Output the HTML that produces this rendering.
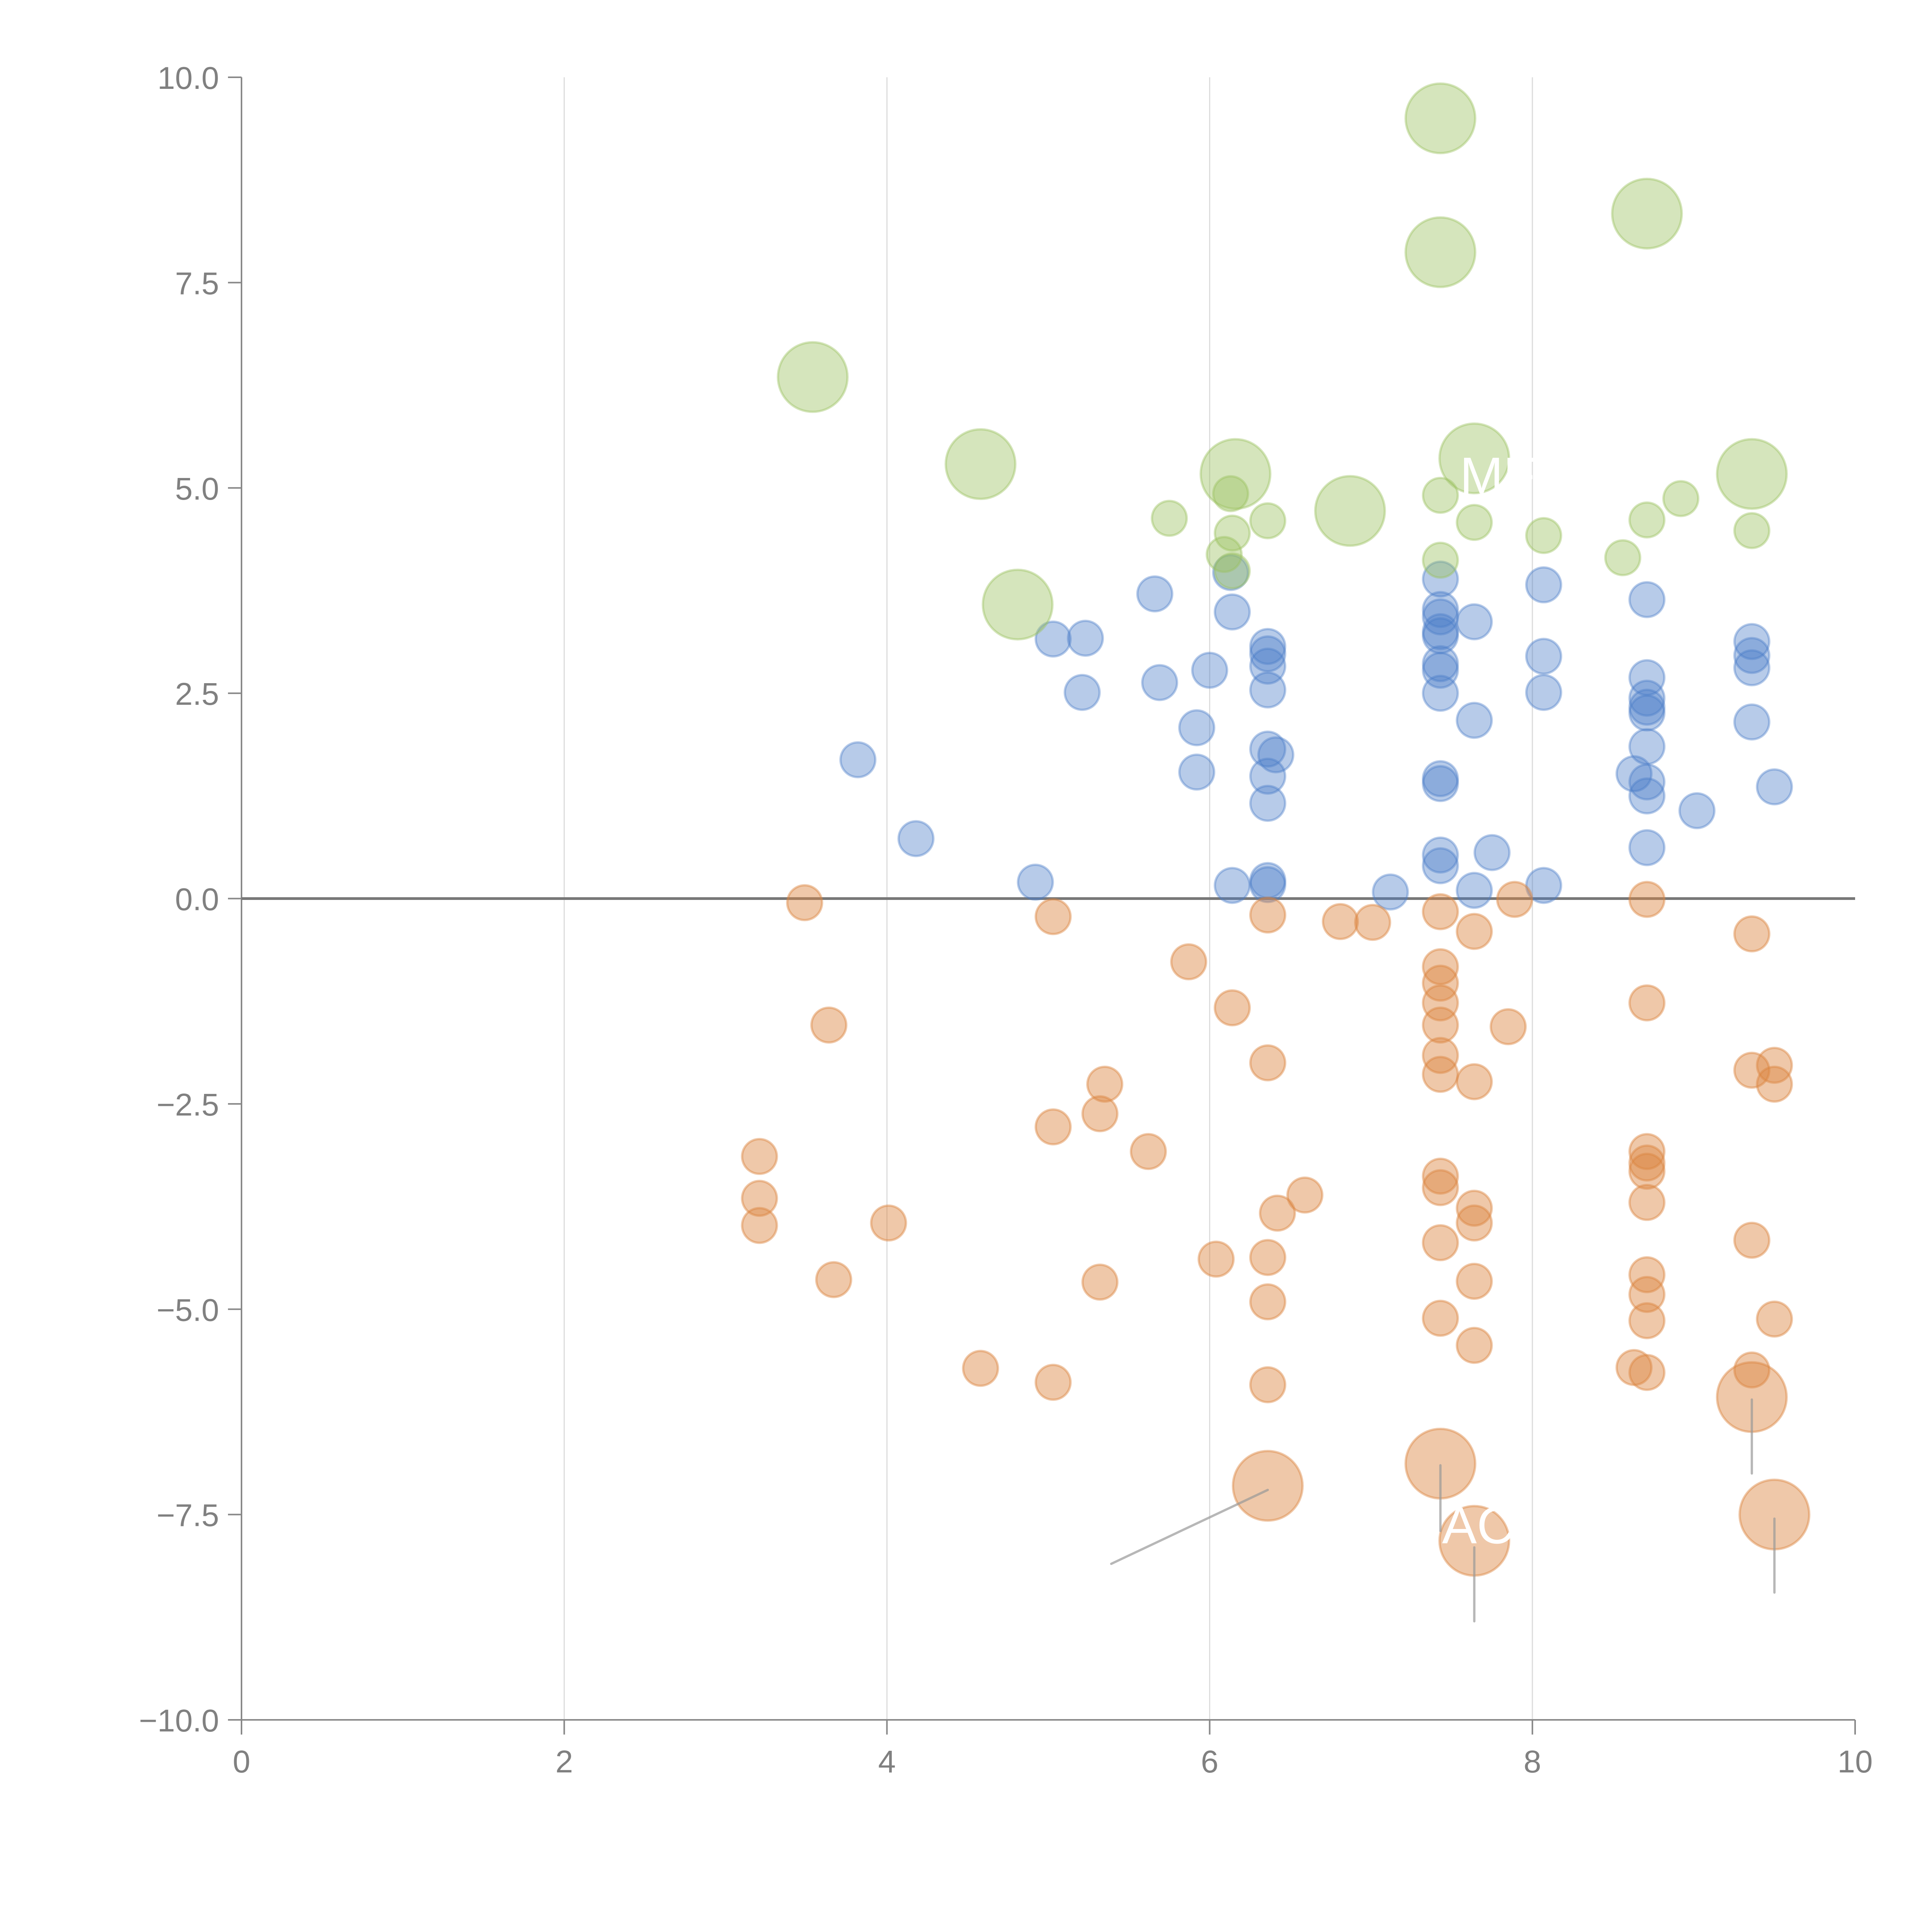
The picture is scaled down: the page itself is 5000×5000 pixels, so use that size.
<!DOCTYPE html>
<html><head><meta charset="utf-8"><style>
html,body{margin:0;padding:0;background:#fff;}
svg{display:block;font-family:"Liberation Sans",Arial,sans-serif;}
</style></head><body>
<svg id="chart" width="5000" height="5000" viewBox="0 0 5000 5000" xmlns="http://www.w3.org/2000/svg">
<rect width="5000" height="5000" fill="#fff"/>
<g id="grid"></g>
<g id="axes"></g>
<g id="marks"></g>
<g id="annot"></g>
</svg>
<script>
const xTicks = [0, 2, 4, 6, 8, 10];
const yTicks = [-10, -7.5, -5, -2.5, 0, 2.5, 5, 7.5, 10];
const xTickLabels = ["0", "2", "4", "6", "8", "10"];
const yTickLabels = ["\u221210.0", "\u22127.5", "\u22125.0", "\u22122.5", "0.0", "2.5", "5.0", "7.5", "10.0"];

const greenX = [5.75,6.13,6.14,6.09,6.14,6.36,7.43,7.43,7.64,8.07,8.56,8.71,8.92,9.36,
  7.43,8.71,7.43,3.54,4.58,6.16,7.64,6.87,9.36,4.81];
const greenY = [4.63,4.93,4.45,4.19,3.99,4.60,4.91,4.12,4.58,4.42,4.15,4.61,4.87,4.48,
  9.50,8.34,7.87,6.35,5.29,5.17,5.36,4.72,5.17,3.58];
const greenSize = [1,1,1,1,1,1,1,1,1,1,1,1,1,1, 4,4,4,4,4,4,4,4,4,4];

const blueX = [3.82,4.18,4.92,5.03,5.23,5.21,5.66,5.69,5.92,5.92,6.00,6.13,6.14,6.14,6.36,6.36,6.36,6.36,6.36,6.41,6.36,6.36,6.36,6.36,7.12,
  7.43,7.43,7.43,7.43,7.43,7.43,7.43,7.43,7.43,7.43,7.43,7.43,7.64,7.64,7.64,7.75,8.07,8.07,8.07,8.07,
  8.71,8.71,8.71,8.71,8.71,8.71,8.63,8.71,8.71,8.71,9.02,9.36,9.36,9.36,9.36,9.50];
const blueY = [1.69,0.73,0.20,3.16,3.17,2.51,3.71,2.63,2.08,1.54,2.78,3.97,3.49,0.16,3.07,2.98,2.83,2.54,1.82,1.75,1.49,1.16,0.22,0.17,0.08,
  3.89,3.52,3.43,3.25,3.20,2.86,2.78,2.50,1.46,1.40,0.53,0.40,3.37,2.17,0.10,0.56,3.82,2.95,2.51,0.16,
  3.64,2.69,2.44,2.33,2.26,1.85,1.52,1.42,1.25,0.62,1.07,3.13,2.96,2.81,2.15,1.36];

const orangeX = [3.49,5.03,3.64,3.21,3.21,3.21,3.67,4.01,4.58,5.03,5.03,5.32,5.35,5.32,5.62,5.87,6.04,6.14,6.36,6.36,6.42,6.59,6.36,6.36,6.36,6.81,7.01,
  7.43,7.43,7.43,7.43,7.43,7.43,7.43,7.43,7.43,7.43,7.43,7.64,7.64,7.64,7.64,7.64,7.64,7.85,7.89,
  8.71,8.71,8.71,8.71,8.71,8.71,8.71,8.71,8.71,8.71,8.63,9.36,9.36,9.50,9.50,9.36,9.50,9.36,
  6.36,7.43,7.64,9.36,9.50];
const orangeY = [-0.05,-0.22,-1.54,-3.14,-3.65,-3.98,-4.64,-3.95,-5.72,-2.78,-5.89,-2.62,-2.26,-4.67,-3.08,-0.77,-4.39,-1.33,-0.20,-2.00,-3.83,-3.61,-4.37,-4.91,-5.92,-0.28,-0.29,
  -0.16,-0.83,-1.03,-1.27,-1.54,-1.91,-2.14,-3.38,-3.52,-4.19,-5.11,-0.40,-2.23,-3.77,-3.95,-4.66,-5.44,-1.56,-0.01,
  -0.01,-1.27,-3.08,-3.22,-3.32,-3.70,-4.58,-4.82,-5.14,-5.77,-5.71,-0.43,-2.09,-2.03,-2.26,-4.16,-5.12,-5.74,
  -7.15,-6.88,-7.82,-6.07,-7.50];
const orangeSize = orangeX.map((_, i) => i >= orangeX.length - 5 ? 4 : 1);

const leaderFromX = [6.36, 7.43, 7.64, 9.36, 9.50];
const leaderFromY = [-7.20, -6.90, -7.90, -6.10, -7.55];
const leaderToX = [5.39, 7.43, 7.64, 9.36, 9.50];
const leaderToY = [-8.10, -7.70, -8.80, -7.00, -8.45];

const SVGNS = "http://www.w3.org/2000/svg";
const X = v => 625 + v * 417.6;
const Y = v => 2325.5 - v * 212.55;
function mk(tag, attrs, parent) {
  const el = document.createElementNS(SVGNS, tag);
  for (const k in attrs) el.setAttribute(k, attrs[k]);
  parent.appendChild(el);
  return el;
}
const grid = document.getElementById('grid');
const axes = document.getElementById('axes');
const marks = document.getElementById('marks');
const annot = document.getElementById('annot');

xTicks.forEach((t, i) => {
  if (t > 0 && t < 10) {
    const g = mk('line', {x1: X(t), x2: X(t), y1: Y(10), y2: Y(-10), stroke: '#dcdcdc', 'stroke-width': 3}, grid);
    
    
  }
  const tk = mk('line', {x1: X(t), x2: X(t), y1: Y(-10), y2: Y(-10) + 38, stroke: '#888', 'stroke-width': 4}, axes);
  
  
  const lb = mk('text', {x: X(t), y: Y(-10) + 136, 'text-anchor': 'middle', 'font-size': 82, fill: '#808080'}, axes);
  lb.textContent = xTickLabels[i];
  
  
});
yTicks.forEach((t, i) => {
  const tk = mk('line', {x1: X(0) - 35, x2: X(0), y1: Y(t), y2: Y(t), stroke: '#888', 'stroke-width': 4}, axes);
  
  
  const lb = mk('text', {x: X(0) - 58, y: Y(t) + 30, 'text-anchor': 'end', 'font-size': 82, fill: '#808080'}, axes);
  lb.textContent = yTickLabels[i];
  
  
});
const ya = mk('line', {x1: X(0), x2: X(0), y1: Y(10), y2: Y(-10), stroke: '#888', 'stroke-width': 4}, axes);


const xa = mk('line', {x1: X(0), x2: X(10), y1: Y(-10), y2: Y(-10), stroke: '#888', 'stroke-width': 4}, axes);


const zl = mk('line', {x1: X(0), x2: X(10), y1: Y(0), y2: Y(0), stroke: '#777', 'stroke-width': 7}, axes);



function series(xs, ys, sizes, color, op, name) {
  xs.forEach((x, i) => {
    const r = 45 * Math.sqrt(sizes ? sizes[i] : 1);
    const c = mk('circle', {cx: X(x), cy: Y(ys[i]), r: r, fill: color, 'fill-opacity': op,
      stroke: color, 'stroke-opacity': op, 'stroke-width': 6}, marks);
    
    
  });
}
series(blueX, blueY, null, '#4a7cc8', 0.4, 'blue-bubble');
series(orangeX, orangeY, orangeSize, '#dc8540', 0.45, 'orange-bubble');
series(greenX, greenY, greenSize, '#9cc060', 0.42, 'green-bubble');

leaderFromX.forEach((fx, i) => {
  const l = mk('line', {x1: X(fx), y1: Y(leaderFromY[i]), x2: X(leaderToX[i]), y2: Y(leaderToY[i]),
    stroke: '#999', 'stroke-opacity': 0.7, 'stroke-width': 6, 'stroke-linecap': 'round'}, annot);
  
  
});
const t1 = mk('text', {x: X(7.55), y: Y(4.93), 'font-size': 135, fill: '#fff'}, annot);
t1.textContent = 'MF';


const t2 = mk('text', {x: X(7.44), y: Y(-7.85), 'font-size': 135, fill: '#fff'}, annot);
t2.textContent = 'AC';


</script>
</body></html>
